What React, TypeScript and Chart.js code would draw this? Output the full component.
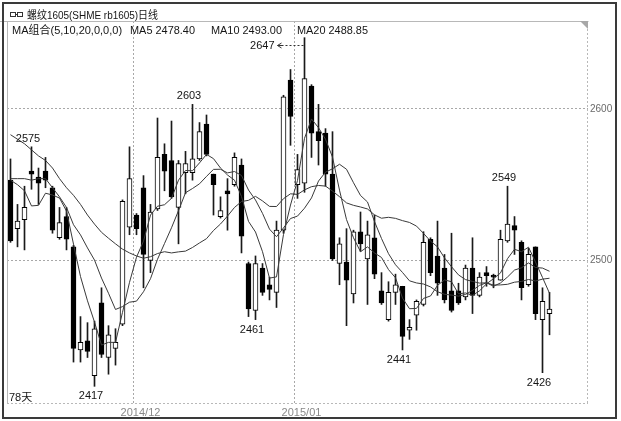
import React, { useEffect, useRef } from 'react';
import { Chart, registerables } from 'chart.js';

Chart.register(...registerables);

// ---- data (78 trading days) ----
const OPEN = [
  2553, 2521, 2527, 2559, 2555, 2559, 2548, 2515, 2529, 2509,
  2441, 2447, 2424, 2472, 2436, 2442, 2458, 2522, 2530, 2548,
  2500, 2534, 2570, 2566, 2535, 2558, 2558, 2567, 2590, 2557,
  2529, 2546, 2550, 2563, 2498, 2467, 2495, 2484, 2479, 2520,
  2619, 2550, 2551, 2615, 2585, 2584, 2557, 2498, 2499, 2478,
  2519, 2501, 2515, 2480, 2461, 2479, 2483, 2454, 2464, 2471,
  2514, 2503, 2495, 2480, 2480, 2476, 2495, 2477, 2492, 2490,
  2487, 2513, 2523, 2512, 2484, 2509, 2461, 2465,
];
const HIGH = [
  2567, 2537, 2549, 2575, 2561, 2568, 2549, 2535, 2535, 2510,
  2463, 2459, 2460, 2482, 2457, 2455, 2540, 2575, 2531, 2556,
  2537, 2594, 2577, 2592, 2566, 2572, 2603, 2591, 2596, 2557,
  2542, 2554, 2571, 2567, 2499, 2503, 2498, 2489, 2526, 2609,
  2626, 2570, 2647, 2616, 2603, 2587, 2585, 2515, 2521, 2520,
  2532, 2526, 2530, 2492, 2486, 2491, 2483, 2461, 2474, 2519,
  2515, 2526, 2504, 2518, 2485, 2497, 2515, 2492, 2496, 2491,
  2520, 2549, 2529, 2513, 2508, 2509, 2482, 2479,
];
const LOW = [
  2512, 2509, 2507, 2547, 2537, 2548, 2518, 2514, 2507, 2433,
  2433, 2436, 2417, 2436, 2425, 2431, 2457, 2517, 2517, 2482,
  2492, 2533, 2546, 2541, 2511, 2544, 2553, 2566, 2569, 2530,
  2528, 2520, 2549, 2505, 2463, 2461, 2477, 2474, 2469, 2518,
  2576, 2541, 2545, 2568, 2563, 2549, 2500, 2484, 2457, 2472,
  2506, 2471, 2488, 2471, 2460, 2471, 2441, 2448, 2454, 2470,
  2490, 2477, 2472, 2466, 2471, 2474, 2465, 2476, 2483, 2482,
  2487, 2512, 2504, 2474, 2483, 2461, 2426, 2451,
];
const CLOSE = [
  2513, 2526, 2535, 2557, 2551, 2553, 2520, 2525, 2514, 2442,
  2446, 2440, 2455, 2438, 2451, 2446, 2539, 2554, 2521, 2504,
  2532, 2568, 2559, 2542, 2564, 2564, 2567, 2585, 2570, 2550,
  2533, 2544, 2568, 2516, 2468, 2498, 2479, 2481, 2520, 2608,
  2595, 2560, 2620, 2584, 2579, 2557, 2501, 2511, 2487, 2519,
  2511, 2517, 2491, 2472, 2479, 2484, 2450, 2456, 2473, 2512,
  2492, 2485, 2474, 2467, 2472, 2495, 2477, 2489, 2490, 2489,
  2514, 2524, 2520, 2482, 2504, 2465, 2473, 2468,
];
const MA5 = [
  2553, 2550, 2546, 2536, 2536.4, 2544.4, 2543.2, 2541.2, 2532.6, 2510.8,
  2489.4, 2473.4, 2459.4, 2444.2, 2446, 2446, 2465.8, 2485.6, 2502.2, 2512.8,
  2530, 2535.8, 2536.8, 2541, 2553, 2559.4, 2559.2, 2564.4, 2570, 2567.2,
  2561, 2556.4, 2553, 2542.2, 2525.8, 2518.8, 2505.8, 2488.4, 2489.2, 2517.2,
  2536.6, 2552.8, 2580.6, 2593.4, 2587.6, 2580, 2568.2, 2546.4, 2527, 2515,
  2505.8, 2509, 2505, 2502, 2494, 2488.6, 2475.2, 2468.2, 2468.4, 2475,
  2476.6, 2483.6, 2487.2, 2486, 2478, 2478.6, 2477, 2480, 2484.6, 2488,
  2491.8, 2501.2, 2507.4, 2505.8, 2508.8, 2499.0, 2488.8, 2478.4,
];
const MA10 = [
  2554, 2554, 2554, 2553, 2554, 2554, 2548, 2542, 2535, 2523.6,
  2516.9, 2508.3, 2500.3, 2488.4, 2478.4, 2467.7, 2469.6, 2472.5, 2473.2, 2479.4,
  2488, 2500.8, 2511.2, 2521.6, 2532.9, 2544.7, 2547.5, 2550.6, 2555.5, 2560.1,
  2560.2, 2557.8, 2558.7, 2556.1, 2546.5, 2539.9, 2531.1, 2520.7, 2515.7, 2521.5,
  2527.7, 2529.3, 2534.5, 2541.3, 2552.4, 2558.3, 2560.5, 2563.5, 2560.2, 2551.3,
  2542.9, 2538.6, 2525.7, 2514.5, 2504.5, 2497.2, 2492.1, 2486.6, 2485.2, 2484.5,
  2482.6, 2479.4, 2477.7, 2477.2, 2476.5, 2477.6, 2480.3, 2483.6, 2485.3, 2483,
  2485.2, 2489.1, 2493.7, 2495.2, 2498.4, 2495.4, 2495.0, 2492.9,
];
const MA20 = [
  2583, 2580, 2577, 2573, 2569, 2566, 2561, 2554, 2548, 2543,
  2537, 2530, 2524, 2518.6, 2514.7, 2511, 2507.5, 2505, 2503, 2501.5,
  2502.5, 2504.6, 2505.8, 2505, 2505.7, 2506.2, 2508.6, 2511.6, 2514.4, 2519.8,
  2524.1, 2529.3, 2535, 2538.9, 2539.7, 2542.3, 2539.3, 2535.7, 2535.6, 2540.8,
  2544, 2543.6, 2546.6, 2548.7, 2549.5, 2549.1, 2545.8, 2542.1, 2538, 2536.4,
  2535.3, 2534, 2530.1, 2527.9, 2528.5, 2527.8, 2526.3, 2525.1, 2522.7, 2517.9,
  2512.8, 2509, 2501.7, 2495.9, 2490.5, 2487.4, 2486.2, 2485.1, 2485.3, 2483.8,
  2483.9, 2484.3, 2485.7, 2486.2, 2487.5, 2486.5, 2487.7, 2488.3,
];

// 78 days plus 5 empty slots on the right
const SLOTS = Array.from({ length: 83 }, (_, i) => String(i + 1));
const MONTH_TICKS: Record<number, string> = { 18: '2014/12', 41: '2015/01' };
const Y_TICKS = [2500, 2600];
const HIGH_MARKS = [3, 26, 71];
const LOW_MARKS = [12, 35, 56, 76];
const ARROW_MARK = 42;
const TITLE = '螺纹1605(SHME rb1605)日线';
const MA_TEXTS = ['MA组合(5,10,20,0,0,0)', 'MA5 2478.40', 'MA10 2493.00', 'MA20 2488.85'];
const DAYS_TEXT = '78天';

const FONT = '"Liberation Sans", "Noto Sans CJK SC", sans-serif';

const decor = {
  id: 'decor',
  beforeDraw(chart: any) {
    const { ctx, width, height } = chart;
    ctx.save();
    ctx.fillStyle = '#ffffff';
    ctx.fillRect(0, 0, width, height);
    ctx.restore();
  },
  afterDraw(chart: any) {
    const { ctx, chartArea } = chart;
    const x = chart.scales.x;
    const y = chart.scales.y;
    const { left, right, top, bottom } = chartArea;
    ctx.save();

    // plot frame
    ctx.strokeStyle = '#b8b8b8';
    ctx.lineWidth = 1;
    ctx.beginPath();
    ctx.moveTo(0, top + 0.5);
    ctx.lineTo(right + 0.5, top + 0.5);
    ctx.moveTo(left + 0.5, top);
    ctx.lineTo(left + 0.5, bottom);
    ctx.stroke();
    ctx.setLineDash([2, 2]);
    ctx.beginPath();
    ctx.moveTo(right - 0.5, top);
    ctx.lineTo(right - 0.5, bottom);
    ctx.moveTo(left, bottom + 0.5);
    ctx.lineTo(right, bottom + 0.5);
    ctx.stroke();
    ctx.setLineDash([]);
    ctx.fillStyle = '#a8a8a8';
    ctx.beginPath();
    ctx.moveTo(right - 8, top);
    ctx.lineTo(right, top);
    ctx.lineTo(right, top + 8);
    ctx.closePath();
    ctx.fill();

    // outer border
    ctx.strokeStyle = '#3a3a3a';
    ctx.lineWidth = 2;
    ctx.strokeRect(3, 3, 613, 415);

    // header icon
    ctx.strokeStyle = '#333';
    ctx.lineWidth = 1;
    ctx.strokeRect(10.5, 12.5, 5, 4);
    ctx.strokeRect(17.5, 12.5, 5, 4);
    ctx.beginPath();
    ctx.moveTo(15.5, 14.5);
    ctx.lineTo(17.5, 14.5);
    ctx.stroke();

    ctx.fillStyle = '#151515';
    ctx.textBaseline = 'middle';
    ctx.textAlign = 'left';
    ctx.font = '11px ' + FONT;
    ctx.fillText(TITLE, 27, 15.5, 131);

    const maX = [12, 130, 211, 297];
    const maW = [111, 65, 71, 71];
    MA_TEXTS.forEach((t, i) => ctx.fillText(t, maX[i], 30.5, maW[i]));

    ctx.fillText(DAYS_TEXT, 9, 397.5);

    // high / low marks
    ctx.textAlign = 'center';
    HIGH_MARKS.forEach((i) => {
      const px = x.getPixelForValue(i);
      const py = y.getPixelForValue(HIGH[i]);
      ctx.fillText(String(HIGH[i]), px - 3.5, py - 8);
    });
    LOW_MARKS.forEach((i) => {
      const px = x.getPixelForValue(i);
      const py = y.getPixelForValue(LOW[i]);
      ctx.fillText(String(LOW[i]), px - 3.5, py + 10);
    });

    // arrow mark for the highest high
    {
      const px = x.getPixelForValue(ARROW_MARK);
      const py = Math.round(y.getPixelForValue(HIGH[ARROW_MARK]) + 7) + 0.5;
      ctx.textAlign = 'right';
      ctx.fillText(String(HIGH[ARROW_MARK]), px - 30, py);
      ctx.strokeStyle = '#333';
      ctx.lineWidth = 1;
      ctx.setLineDash([2, 2]);
      ctx.beginPath();
      ctx.moveTo(px - 1, py);
      ctx.lineTo(px - 24, py);
      ctx.stroke();
      ctx.setLineDash([]);
      ctx.beginPath();
      ctx.moveTo(px - 27, py);
      ctx.lineTo(px - 23, py - 2.5);
      ctx.moveTo(px - 27, py);
      ctx.lineTo(px - 23, py + 2.5);
      ctx.moveTo(px - 27, py);
      ctx.lineTo(px - 22, py);
      ctx.stroke();
    }
    ctx.restore();
  },
};

export default function App() {
  const canvasRef = useRef<HTMLCanvasElement | null>(null);

  useEffect(() => {
    document.body.style.margin = '0';
    const canvas = canvasRef.current;
    if (!canvas) return;

    const bodyColors = OPEN.map((o, i) => (CLOSE[i] >= o ? '#ffffff' : '#000000'));

    const chart = new Chart(canvas, {
      type: 'bar',
      data: {
        labels: SLOTS,
        datasets: [
          {
            type: 'line',
            data: MA5,
            borderColor: '#3a3a3a',
            borderWidth: 1,
            pointRadius: 0,
            tension: 0,
            fill: false,
            order: 0,
          } as any,
          {
            type: 'line',
            data: MA10,
            borderColor: '#3a3a3a',
            borderWidth: 1,
            pointRadius: 0,
            tension: 0,
            fill: false,
            order: 0,
          } as any,
          {
            type: 'line',
            data: MA20,
            borderColor: '#3a3a3a',
            borderWidth: 1,
            pointRadius: 0,
            tension: 0,
            fill: false,
            order: 0,
          } as any,
          {
            type: 'bar',
            data: OPEN.map((o, i) => [o, CLOSE[i]]),
            backgroundColor: bodyColors,
            borderColor: '#000000',
            borderWidth: 1,
            borderSkipped: false,
            barThickness: 5,
            minBarLength: 2,
            grouped: false,
            order: 1,
          } as any,
          {
            type: 'bar',
            data: LOW.map((l, i) => [l, HIGH[i]]),
            backgroundColor: '#1a1a1a',
            borderWidth: 0,
            barThickness: 1,
            grouped: false,
            order: 2,
          } as any,
        ],
      },
      options: {
        responsive: false,
        animation: false,
        events: [],
        layout: { padding: { left: 7, top: 21, right: 0, bottom: 0 } },
        font: { family: FONT, size: 11 },
        plugins: {
          legend: { display: false },
          tooltip: { enabled: false },
          title: { display: false },
        },
        scales: {
          x: {
            type: 'category',
            offset: true,
            afterFit: (s: any) => {
              s.height = 18;
            },
            grid: {
              offset: true,
              drawTicks: false,
              color: (c: any) => (MONTH_TICKS[c.index] ? '#a8a8a8' : 'rgba(0,0,0,0)'),
              lineWidth: 1,
            },
            border: { display: false, dash: [2, 2] },
            ticks: {
              autoSkip: false,
              maxRotation: 0,
              minRotation: 0,
              padding: 3,
              labelOffset: 4,
              color: '#8a8a8a',
              font: { family: FONT, size: 11 },
              callback: (_v: any, index: number) => MONTH_TICKS[index] ?? '',
            },
          },
          y: {
            type: 'linear',
            position: 'right',
            min: 2406,
            max: 2658,
            afterFit: (s: any) => {
              s.width = 33;
            },
            afterBuildTicks: (s: any) => {
              s.ticks = Y_TICKS.map((v) => ({ value: v }));
            },
            grid: { drawTicks: false, color: '#a8a8a8', lineWidth: 1 },
            border: { display: false, dash: [2, 2] },
            ticks: {
              padding: 2,
              color: '#6a6a6a',
              font: { family: FONT, size: 10 },
              callback: (v: any) => String(v),
            },
          },
        },
      },
      plugins: [decor],
    } as any);

    return () => chart.destroy();
  }, []);

  return (
    <div style={{ width: 621, height: 421 }}>
      <canvas ref={canvasRef} width={621} height={421} style={{ display: 'block' }} />
    </div>
  );
}
